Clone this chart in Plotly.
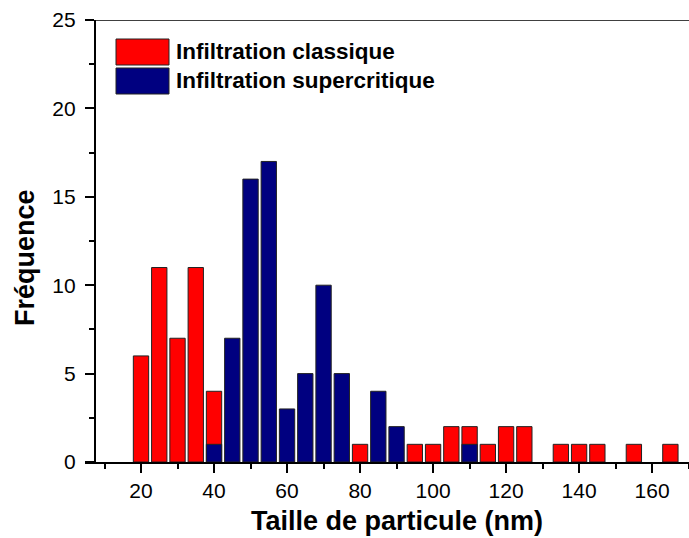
import plotly.graph_objects as go

# Particle size bins (nm) and counts for each infiltration method
classique_sizes = [20, 25, 30, 35, 40, 80, 95, 100, 105, 110, 115, 120, 125, 135, 140, 145, 155, 165]
classique_counts = [6, 11, 7, 11, 4, 1, 1, 1, 2, 2, 1, 2, 2, 1, 1, 1, 1, 1]

supercritique_sizes = [40, 45, 50, 55, 60, 65, 70, 75, 85, 90, 110]
supercritique_counts = [1, 7, 16, 17, 3, 5, 10, 5, 4, 2, 1]

series_names = ["Infiltration classique", "Infiltration supercritique"]
series_colors = ["#FF0000", "#000080"]

x_ticks = [20, 40, 60, 80, 100, 120, 140, 160]
y_ticks = [0, 5, 10, 15, 20, 25]

x_title = "Taille de particule (nm)"
y_title = "Fréquence"

FONT = "Arial, Liberation Sans, sans-serif"
BAR_WIDTH = 4.2
X_RANGE = [4.66, 170.1]
Y_AXIS_AT = 7.3  # y axis sits slightly inside the x range

W, H = 689, 538
ML, MR, MT, MB = 85, 0, 20, 76
PW, PH = W - ML - MR, H - MT - MB


def px_x(px):
    return (px - ML) / PW


def px_y(py):
    return 1 - (py - MT) / PH


fig = go.Figure()
for name, xs, ys, col in [
    (series_names[0], classique_sizes, classique_counts, series_colors[0]),
    (series_names[1], supercritique_sizes, supercritique_counts, series_colors[1]),
]:
    fig.add_bar(
        x=xs, y=ys, name=name, width=BAR_WIDTH,
        marker=dict(color=col, line=dict(color="#222222", width=1)),
        showlegend=False,
    )

y_pos = (Y_AXIS_AT - X_RANGE[0]) / (X_RANGE[1] - X_RANGE[0])

fig.update_layout(
    width=W, height=H,
    margin=dict(l=ML, r=MR, t=MT, b=MB),
    paper_bgcolor="white", plot_bgcolor="white",
    barmode="overlay",
    font=dict(family=FONT, color="black"),
    xaxis=dict(
        range=X_RANGE, tickvals=x_ticks,
        showline=True, linecolor="black", linewidth=1.5,
        ticks="outside", ticklen=9, tickwidth=1.5, tickcolor="black",
        minor=dict(dtick=20, tick0=10, ticks="outside", ticklen=5, tickwidth=1.5, tickcolor="black"),
        tickfont=dict(size=21, family=FONT),
        showgrid=False, zeroline=False,
    ),
    yaxis=dict(
        range=[0, 25], tickvals=y_ticks,
        anchor="free", position=y_pos,
        showline=True, linecolor="black", linewidth=1.5,
        ticks="outside", ticklen=9, tickwidth=1.5, tickcolor="black",
        minor=dict(dtick=2.5, tick0=0, ticks="outside", ticklen=5, tickwidth=1.5, tickcolor="black"),
        tickfont=dict(size=21, family=FONT),
        ticklabelstandoff=5,
        showgrid=False, zeroline=False,
    ),
)

# top frame line
fig.add_shape(type="line", xref="x", yref="y", x0=Y_AXIS_AT, x1=X_RANGE[1], y0=25, y1=25,
              line=dict(color="black", width=1.5))

# axis titles
fig.add_annotation(xref="paper", yref="paper", x=px_x(397), y=px_y(521),
                   text=f"<b>{x_title}</b>", showarrow=False,
                   xanchor="center", yanchor="middle",
                   font=dict(size=27, family=FONT, color="black"))
fig.add_annotation(xref="paper", yref="paper", x=px_x(25), y=px_y(258),
                   text=f"<b>{y_title}</b>", showarrow=False, textangle=-90,
                   xanchor="center", yanchor="middle",
                   font=dict(size=27, family=FONT, color="black"))

# legend: large swatches with bold labels
legend_rows = [(39, 65), (68, 94)]  # pixel rows from top of figure
for (top, bot), name, col in zip(legend_rows, series_names, series_colors):
    fig.add_shape(type="rect", xref="paper", yref="paper",
                  x0=px_x(116), x1=px_x(169), y0=px_y(bot), y1=px_y(top),
                  fillcolor=col, line=dict(color="#222222", width=1))
    fig.add_annotation(xref="paper", yref="paper", x=px_x(174), y=px_y((top + bot) / 2),
                       text=f"<b>{name}</b>", showarrow=False, xanchor="left", yanchor="middle",
                       font=dict(size=22.5, family=FONT, color="black"))

fig.write_html("out.html")
